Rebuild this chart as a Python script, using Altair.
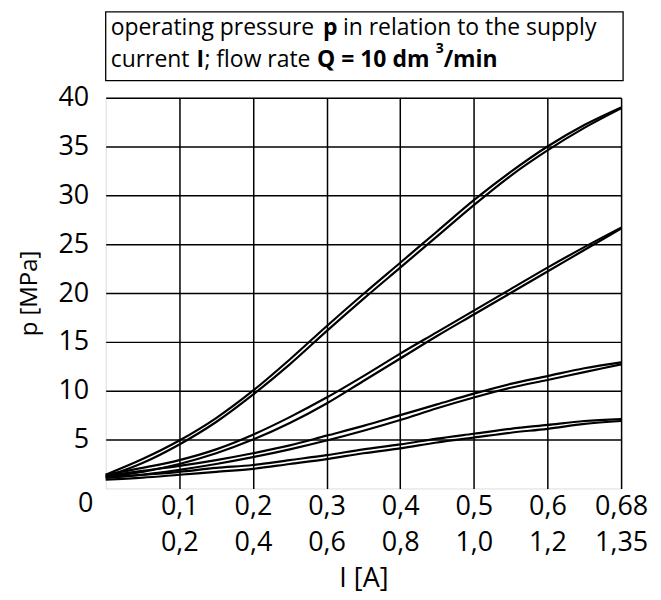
import altair as alt
import pandas as pd

# current positions along the (uniform) grid; last grid line is labelled 0,68
I_pos = [0.0, 0.05, 0.1, 0.15, 0.2, 0.25, 0.3, 0.35, 0.4, 0.45, 0.5, 0.55, 0.6, 0.65, 0.7]

# four hysteresis loops (rising branch / falling branch), p in MPa
c1_up   = [1.2, 2.6, 4.5, 6.8, 9.6, 12.7, 16.1, 19.4, 22.6, 25.8, 29.0, 32.0, 34.6, 36.9, 38.9]
c1_down = [1.4, 3.0, 4.9, 7.2, 10.0, 13.2, 16.6, 19.9, 23.1, 26.3, 29.5, 32.4, 35.0, 37.2, 39.0]
c2_up   = [1.2, 1.7, 2.5, 3.6, 5.0, 6.7, 8.7, 11.0, 13.3, 15.6, 17.8, 20.0, 22.2, 24.4, 26.6]
c2_down = [1.4, 2.1, 2.9, 4.0, 5.5, 7.3, 9.3, 11.5, 13.8, 16.0, 18.2, 20.4, 22.6, 24.7, 26.7]
c3_up   = [1.1, 1.4, 1.9, 2.5, 3.2, 4.0, 4.9, 5.9, 7.0, 8.2, 9.3, 10.3, 11.1, 11.9, 12.7]
c3_down = [1.3, 1.8, 2.3, 2.9, 3.6, 4.4, 5.4, 6.4, 7.5, 8.6, 9.7, 10.7, 11.5, 12.3, 12.9]
c4_up   = [0.9, 1.1, 1.4, 1.7, 2.0, 2.5, 3.0, 3.6, 4.1, 4.7, 5.2, 5.7, 6.1, 6.6, 6.9]
c4_down = [1.1, 1.4, 1.7, 2.1, 2.4, 2.9, 3.4, 4.0, 4.5, 5.1, 5.6, 6.1, 6.5, 6.9, 7.1]

x_ticks = [0.1, 0.2, 0.3, 0.4, 0.5, 0.6, 0.7]
x_labels_top = ["0,1", "0,2", "0,3", "0,4", "0,5", "0,6", "0,68"]
x_labels_bottom = ["0,2", "0,4", "0,6", "0,8", "1,0", "1,2", "1,35"]
y_ticks = [5, 10, 15, 20, 25, 30, 35, 40]

series = {
    "c1_up": c1_up, "c1_down": c1_down,
    "c2_up": c2_up, "c2_down": c2_down,
    "c3_up": c3_up, "c3_down": c3_down,
    "c4_up": c4_up, "c4_down": c4_down,
}
rows = []
for name, vals in series.items():
    for xv, pv in zip(I_pos, vals):
        rows.append({"I": xv, "p": pv, "series": name})
df = pd.DataFrame(rows)

TICK_FONT = "Open Sans"
BOX_FONT = "Open Sans"

pairs = ",".join("['%s','%s']" % (a, b) for a, b in zip(x_labels_top, x_labels_bottom))
label_expr = "[%s][round(datum.value*10)-1]" % pairs

W, H = 517, 392

lines = alt.Chart(df).mark_line(color="black", strokeWidth=2.2, interpolate="monotone").encode(
    x=alt.X("I:Q", scale=alt.Scale(domain=[0, 0.7], nice=False),
            axis=alt.Axis(values=x_ticks, labelExpr=label_expr, title="I [A]",
                          labelFont=TICK_FONT, labelFontSize=27, labelLineHeight=36,
                          labelPadding=5, tickSize=0, domain=False,
                          grid=True, gridColor="black", gridWidth=1.5, gridOpacity=1,
                          labelColor="black", titleColor="black",
                          titleFont=TICK_FONT, titleFontSize=27, titleFontWeight="normal",
                          titlePadding=10, labelFlush=False)),
    y=alt.Y("p:Q", scale=alt.Scale(domain=[0, 40], nice=False),
            axis=alt.Axis(values=y_ticks, title="p [MPa]", labelFont=TICK_FONT,
                          labelFontSize=27, labelPadding=17, tickSize=0, domain=False,
                          grid=True, gridColor="black", gridWidth=1.5, gridOpacity=1,
                          labelColor="black", titleColor="black",
                          titleFont=TICK_FONT, titleFontSize=24, titleFontWeight="normal",
                          titleX=-76, titleY=196, titleBaseline="middle", titleAngle=270,
                          labelFlush=False)),
    detail="series:N",
)

zero = alt.Chart(pd.DataFrame({"I": [0], "p": [0], "t": ["0"]})).mark_text(
    font=TICK_FONT, fontSize=27, color="black", dx=-20, dy=16, baseline="middle"
).encode(x="I:Q", y="p:Q", text="t:N")

box = alt.Chart(pd.DataFrame({"a": [0]})).mark_rect(
    fill="white", stroke="black", strokeWidth=1.3
).encode(x=alt.value(0), x2=alt.value(519), y=alt.value(-86), y2=alt.value(-17))

segments = [
    # text, x, y, weight, size
    ("operating pressure", 5, -63, "normal", 23),
    ("p", 218, -63, "bold", 23),
    ("in relation to the supply", 238, -63, "normal", 23),
    ("current", 5, -31, "normal", 23),
    ("I", 91, -31, "bold", 23),
    ("; flow rate", 99, -31, "normal", 23),
    ("Q = 10 dm", 212, -31, "bold", 23),
    ("3", 331, -45, "bold", 14),
    ("/min", 339, -31, "bold", 23),
]
texts = []
for t, x, y, w, s in segments:
    texts.append(
        alt.Chart(pd.DataFrame({"t": [t]})).mark_text(
            font=BOX_FONT, fontSize=s, fontWeight=w, color="black",
            align="left", baseline="alphabetic"
        ).encode(x=alt.value(x), y=alt.value(y), text="t:N")
    )

chart = alt.layer(lines, zero, box, *texts).properties(
    width=W, height=H,
    padding={"left": 10, "top": 2, "right": 5, "bottom": 5},
).configure_view(stroke="black", strokeWidth=1.8).configure(background="white")

chart.save("out.html", embed_options={"renderer": "svg", "actions": False})
